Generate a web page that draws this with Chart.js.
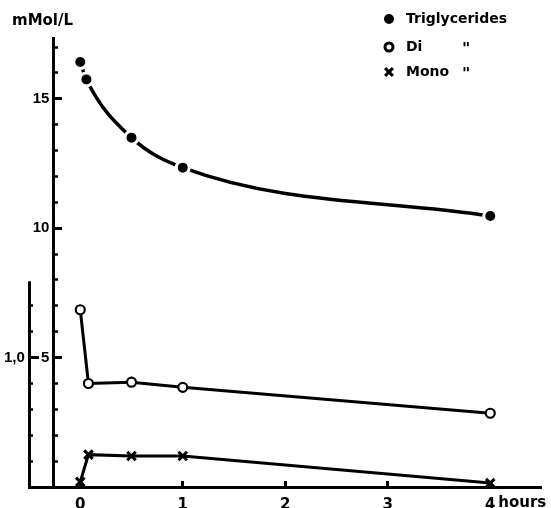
<!DOCTYPE html>
<html>
<head>
<meta charset="utf-8">
<script src="https://cdn.jsdelivr.net/npm/chart.js@4/dist/chart.umd.min.js"></script>
<style>
  html, body { margin: 0; padding: 0; background: #fff; }
  #wrap { width: 551px; height: 508px; }
</style>
</head>
<body>
<div id="wrap"><canvas id="chart" width="551" height="508"></canvas></div>
<script>
// values (hours after start, mmol/L)
const trigHours = [0, 0.06, 0.5, 1, 4];
const triglycerides = [16.42, 15.75, 13.5, 12.34, 10.47];
const lowHours = [0, 0.08, 0.5, 1, 4];
const diglycerides = [1.37, 0.80, 0.81, 0.77, 0.57];
const monoglycerides = [0.04, 0.25, 0.24, 0.24, 0.03];

const xTickValues = [0, 1, 2, 3, 4];
const innerMajorTicks = [5, 10, 15];
const outerMajorTicks = [1.0];
const legendLabels = ['Triglycerides', 'Di', 'Mono'];

// axis geometry
const xMin = -0.5, xMax = 4.5;
const innerAxisAt = -0.26;   // inner y axis sits just left of hour 0
const yTop = 17.35;
const outerTop = 1.59;       // outer axis line only covers the low range

Chart.defaults.font.family = "'DejaVu Sans', sans-serif";
Chart.defaults.font.weight = 'bold';
Chart.defaults.color = '#000';

const toPoints = (xs, ys) => xs.map((x, i) => ({x: x, y: ys[i]}));

function fixedTicks(values) {
  return scale => { scale.ticks = values.map(v => ({value: v})); };
}
function stepTicks(from, to, step) {
  const vals = [];
  for (let v = from; v <= to + 1e-9; v += step) vals.push(+v.toFixed(4));
  return vals;
}
// y axes sit inside the plot, so they should not push the chart area around
function noPad(scale) {
  scale.paddingTop = 0;
  scale.paddingBottom = 0;
}

const overlay = {
  id: 'overlay',
  afterDraw(chart) {
    const {ctx, scales} = chart;
    ctx.save();
    ctx.strokeStyle = '#000';
    ctx.lineWidth = 3;
    // outer (di/mono) axis line, only the lower part
    const ox = Math.round(scales.x.getPixelForValue(xMin)) + 0.5;
    ctx.beginPath();
    ctx.moveTo(ox, scales.y1.getPixelForValue(0) + 1.5);
    ctx.lineTo(ox, scales.y1.getPixelForValue(outerTop));
    ctx.stroke();

    ctx.fillStyle = '#000';
    ctx.textBaseline = 'middle';
    ctx.textAlign = 'left';
    ctx.font = "bold 15px 'DejaVu Sans'";
    ctx.fillText('mMol/L', 12, 21);

    // "hours" next to the last tick
    ctx.font = "bold 15px 'DejaVu Sans'";
    ctx.textBaseline = 'top';
    ctx.fillText('hours', scales.x.getPixelForValue(4) + 8, 496);

    // legend
    ctx.font = "bold 14px 'DejaVu Sans'";
    ctx.textBaseline = 'middle';
    const rows = [19, 47, 72];
    chart.data.datasets.forEach((ds, i) => {
      const y = rows[i];
      ctx.fillStyle = ds.pointBackgroundColor;
      ctx.strokeStyle = ds.pointBorderColor;
      Chart.helpers.drawPoint(ctx, {
        pointStyle: ds.pointStyle,
        radius: ds.pointRadius - (i === 0 ? 0 : 0.5),
        borderWidth: ds.pointBorderWidth,
        rotation: 0
      }, 389, y);
      ctx.fillStyle = '#000';
      ctx.fillText(legendLabels[i], 406, y);
      if (i > 0) {
        ctx.font = "bold 16px 'DejaVu Sans'";
        ctx.fillText('"', 462, y + 3);
        ctx.font = "bold 14px 'DejaVu Sans'";
      }
    });
    ctx.restore();
  }
};

new Chart(document.getElementById('chart'), {
  type: 'line',
  data: {
    datasets: [{
      label: legendLabels[0],
      data: toPoints(trigHours, triglycerides),
      yAxisID: 'y',
      borderColor: '#000',
      borderWidth: 3.5,
      cubicInterpolationMode: 'monotone',
      pointStyle: 'circle',
      pointRadius: 6.5,
      pointBackgroundColor: '#000',
      pointBorderColor: '#fff',
      pointBorderWidth: 3
    }, {
      label: legendLabels[1],
      data: toPoints(lowHours, diglycerides),
      yAxisID: 'y1',
      borderColor: '#000',
      borderWidth: 3,
      tension: 0,
      pointStyle: 'circle',
      pointRadius: 4.5,
      pointBackgroundColor: '#fff',
      pointBorderColor: '#000',
      pointBorderWidth: 2.2
    }, {
      label: legendLabels[2],
      data: toPoints(lowHours, monoglycerides),
      yAxisID: 'y1',
      borderColor: '#000',
      borderWidth: 3,
      tension: 0,
      pointStyle: 'crossRot',
      pointRadius: 6,
      pointBackgroundColor: '#000',
      pointBorderColor: '#000',
      pointBorderWidth: 3
    }]
  },
  options: {
    responsive: false,
    animation: false,
    clip: false,
    layout: { padding: { left: 29, top: 38, right: 2, bottom: 0 } },
    plugins: {
      legend: { display: false },
      tooltip: { enabled: false }
    },
    scales: {
      x: {
        type: 'linear',
        min: xMin, max: xMax,
        afterBuildTicks: fixedTicks(xTickValues),
        afterFit: s => { s.height = 21; },
        ticks: { padding: 15, font: { size: 15, weight: 'bold' }, maxRotation: 0 },
        grid: { drawOnChartArea: false, tickLength: -6, tickWidth: 3, tickColor: '#000' },
        border: { color: '#000', width: 3 }
      },
      y: {
        type: 'linear',
        position: { x: innerAxisAt },
        min: 0, max: yTop,
        afterBuildTicks: fixedTicks(innerMajorTicks),
        afterFit: noPad,
        ticks: { padding: 0, font: { family: "'Liberation Sans'", size: 15, weight: 'bold' },
                 callback: v => v + ' ' },
        grid: { drawOnChartArea: false, tickLength: -10, tickWidth: 3, tickColor: '#000' },
        border: { color: '#000', width: 3 }
      },
      yMinor: {
        type: 'linear',
        position: { x: innerAxisAt },
        min: 0, max: yTop,
        afterBuildTicks: fixedTicks(stepTicks(0, 17, 1)),
        afterFit: noPad,
        ticks: { display: false },
        grid: { drawOnChartArea: false, tickLength: -4, tickWidth: 2.5, tickColor: '#000' },
        border: { display: false }
      },
      y1: {
        type: 'linear',
        position: { x: xMin },
        min: 0, max: yTop / 5,
        afterBuildTicks: fixedTicks(outerMajorTicks),
        afterFit: noPad,
        ticks: { padding: 0, font: { family: "'Liberation Sans'", size: 15, weight: 'bold' },
                 callback: v => v.toFixed(1).replace('.', ',') + ' ' },
        grid: { drawOnChartArea: false, tickLength: -10, tickWidth: 3, tickColor: '#000' },
        border: { display: false }
      },
      y1Minor: {
        type: 'linear',
        position: { x: xMin },
        min: 0, max: yTop / 5,
        afterBuildTicks: fixedTicks(stepTicks(0.2, 1.4, 0.2)),
        afterFit: noPad,
        ticks: { display: false },
        grid: { drawOnChartArea: false, tickLength: -4, tickWidth: 2.5, tickColor: '#000' },
        border: { display: false }
      }
    }
  },
  plugins: [overlay]
});
</script>
</body>
</html>
